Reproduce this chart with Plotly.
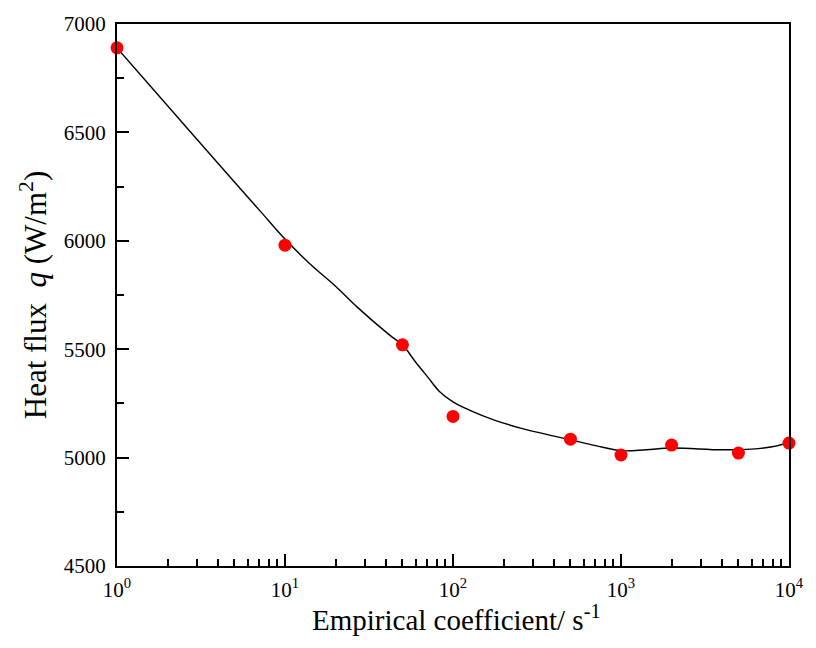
import plotly.graph_objects as go

# Measured points
x_pts = [1, 10, 50, 100, 500, 1000, 2000, 5000, 10000]
q_pts = [6890, 5980, 5520, 5190, 5085, 5012, 5058, 5021, 5067]

# Smooth curve
x_curve = [1, 2, 5, 7.1, 10, 14.1, 20, 27, 42, 50, 60, 71, 83, 100, 126, 178,
           256, 400, 500, 708, 1000, 1413, 2000, 3981, 6000, 7943, 10000]
q_curve = [6890, 6623, 6271, 6138, 6008, 5893, 5790, 5693, 5565, 5520, 5440,
           5370, 5305, 5257, 5218, 5172, 5135, 5099, 5082, 5055, 5032, 5036,
           5044, 5036, 5039, 5050, 5070]

x_tickvals = [1, 10, 100, 1000, 10000]
x_ticktext = ["10<sup>0</sup>", "10<sup>1</sup>", "10<sup>2</sup>",
              "10<sup>3</sup>", "10<sup>4</sup>"]
x_minor = [m * d for d in [1, 10, 100, 1000] for m in range(2, 10)]

x_title = "Empirical coefficient/ s<sup>-1</sup>"
y_title = "Heat flux  <i>q</i> (W/m<sup>2</sup>)"

FONT = "Liberation Serif"

fig = go.Figure()
fig.add_trace(go.Scatter(x=x_curve, y=q_curve, mode="lines",
                         line=dict(color="black", width=1.4, shape="spline",
                                   smoothing=1.0),
                         showlegend=False, hoverinfo="skip"))
fig.add_trace(go.Scatter(x=x_pts, y=q_pts, mode="markers",
                         marker=dict(color="#ff0000", size=13, line=dict(width=0)),
                         showlegend=False, cliponaxis=False))

fig.add_annotation(text=x_title, xref="paper", yref="paper", x=0.505, y=-0.0585,
                   xanchor="center", yanchor="top", showarrow=False,
                   font=dict(family=FONT, size=29, color="black"))

fig.update_layout(
    width=816, height=648,
    margin=dict(l=117, r=18, t=19, b=82),
    paper_bgcolor="white", plot_bgcolor="white",
    font=dict(family=FONT, color="black", size=21),
    xaxis=dict(
        type="log", range=[0, 4],
        tickvals=x_tickvals, ticktext=x_ticktext,
        ticks="inside", ticklen=12, tickwidth=1.8, tickcolor="black",
        minor=dict(tickvals=x_minor, ticks="inside", ticklen=7,
                   tickwidth=1.5, tickcolor="black", showgrid=False),
        showline=True, linewidth=2.2, linecolor="black", mirror=True,
        showgrid=False, zeroline=False,
        ticklabelstandoff=4,
        tickfont=dict(family=FONT, size=21),
    ),
    yaxis=dict(
        range=[4500, 7000], dtick=500, tick0=4500,
        ticks="inside", ticklen=12, tickwidth=1.8, tickcolor="black",
        minor=dict(dtick=250, ticks="inside", ticklen=7, tickwidth=1.5,
                   tickcolor="black", showgrid=False),
        showline=True, linewidth=2.2, linecolor="black", mirror=True,
        showgrid=False, zeroline=False,
        ticklabelstandoff=5,
        tickfont=dict(family=FONT, size=21),
        title=dict(text=y_title, font=dict(family=FONT, size=31), standoff=8),
    ),
)

fig.write_html("out.html")
